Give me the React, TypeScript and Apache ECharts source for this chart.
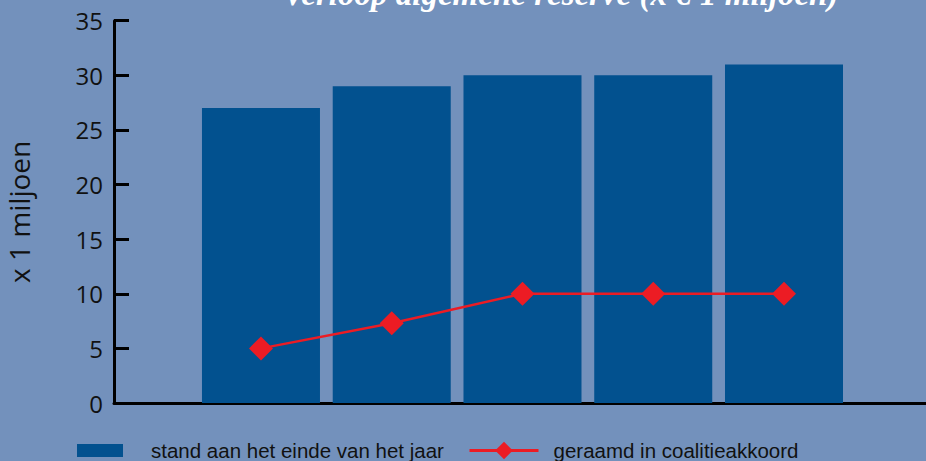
import React, { useEffect, useRef } from "react";
import * as echarts from "echarts";

const title = "Verloop algemene reserve (x € 1 miljoen)";
const yAxisName = "x 1 miljoen";
const categoryIndex = [0, 1, 2, 3, 4];
const standValues = [27, 29, 30, 30, 31];
const geraamdValues = [5, 7.3, 10, 10, 10];
const seriesNames = ["stand aan het einde van het jaar", "geraamd in coalitieakkoord"];

export default function App() {
  const ref = useRef<HTMLDivElement>(null);
  useEffect(() => {
    document.body.style.margin = "0";
    const chart = echarts.init(ref.current!, null, { renderer: "svg" });
    chart.setOption({
      animation: false,
      backgroundColor: "#7391bc",
      title: {
        text: title,
        left: 283,
        top: -23,
        padding: 0,
        textStyle: {
          fontFamily: "Liberation Serif",
          fontStyle: "italic",
          fontWeight: "bold",
          fontSize: 33,
          color: "#ffffff",
        },
      },
      grid: { left: 114, right: 0, top: 20.7, bottom: 58, containLabel: false, outerBoundsMode: "none" },
      xAxis: {
        type: "value",
        min: -1.124,
        max: 5.086,
        axisLine: { show: true, onZero: false, lineStyle: { color: "#000", width: 3 } },
        axisTick: { show: false },
        axisLabel: { show: false },
        splitLine: { show: false },
      },
      yAxis: {
        type: "value",
        min: 0,
        max: 35,
        interval: 5,
        name: yAxisName,
        nameLocation: "middle",
        nameGap: 81,
        nameTextStyle: { fontFamily: "Open Sans", fontSize: 28, color: "#111" },
        axisLine: { show: true, onZero: false, lineStyle: { color: "#000", width: 3 } },
        axisTick: { show: true, inside: true, length: 15, lineStyle: { color: "#000", width: 3 } },
        axisLabel: { fontFamily: "Open Sans", fontSize: 24, color: "#111", margin: 11 },
        splitLine: { show: false },
      },
      legend: [
        {
          data: [{ name: seriesNames[0], icon: "rect" }],
          left: 77,
          top: 440,
          padding: 0,
          itemWidth: 46,
          itemHeight: 13,
          textStyle: { fontFamily: "Liberation Sans", fontSize: 20.5, color: "#111", padding: [0, 0, 0, 23] },
        },
        {
          data: [seriesNames[1]],
          left: 468,
          top: 440,
          padding: 0,
          itemWidth: 69,
          itemHeight: 22,
          itemStyle: { borderWidth: 0 },
          lineStyle: { width: 3 },
          textStyle: { fontFamily: "Liberation Sans", fontSize: 20.5, color: "#111", padding: [0, 0, 0, 10] },
        },
      ],
      series: [
        {
          name: seriesNames[0],
          type: "bar",
          barWidth: 118,
          itemStyle: { color: "#02518f" },
          data: categoryIndex.map((c, i) => [c, standValues[i]]),
        },
        {
          name: seriesNames[1],
          type: "line",
          symbol: "diamond",
          symbolSize: 24,
          lineStyle: { color: "#ec1c24", width: 2.5 },
          itemStyle: { color: "#ec1c24" },
          data: categoryIndex.map((c, i) => [c, geraamdValues[i]]),
        },
      ],
    });
    return () => chart.dispose();
  }, []);
  return <div ref={ref} style={{ width: 926, height: 461 }} />;
}
